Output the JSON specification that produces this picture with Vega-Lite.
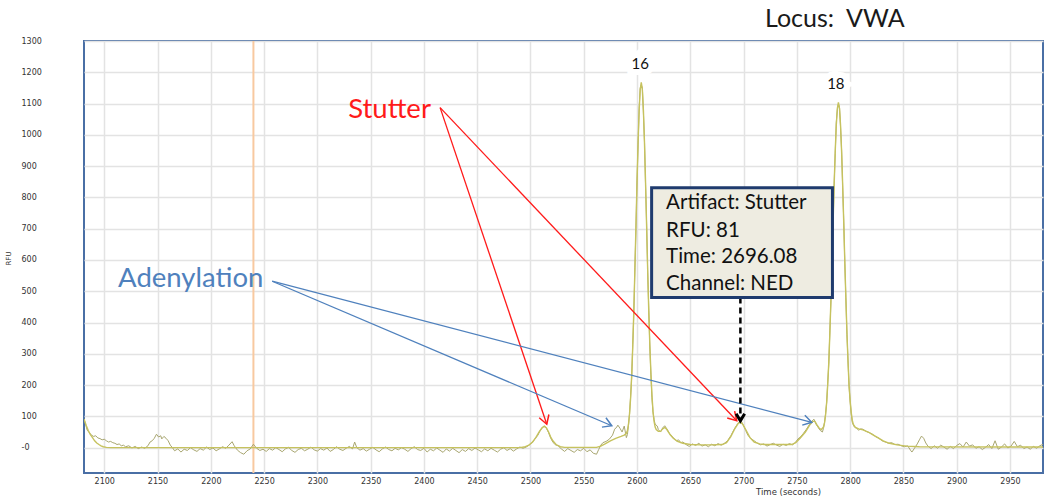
{
  "$schema": "https://vega.github.io/schema/vega-lite/v6.json",
  "width": 959,
  "height": 432,
  "autosize": {"type": "none"},
  "padding": {"left": 84, "top": 41, "right": 7, "bottom": 28},
  "background": "white",
  "title": {"text": "Locus:\u00a0\u00a0VWA", "anchor": "start", "frame": "group", "dx": 681, "offset": 5, "fontSize": 25, "font": "Lato", "fontWeight": "normal", "color": "#1a1a1a"},
  "config": {
    "view": {"stroke": "#4a6fa5", "strokeWidth": 2},
    "axis": {"gridColor": "#e3e3e3", "gridWidth": 1.5, "labelOverlap": false}
  },
  "datasets": {
    "raw": [
      {"t":2081,"v":92},{"t":2082,"v":80},{"t":2084,"v":56},{"t":2086,"v":48},{"t":2088,"v":40},{"t":2090,"v":36},{"t":2092,"v":38},{"t":2094,"v":31},{"t":2096,"v":29},{"t":2098,"v":25},{"t":2100,"v":27},{"t":2102,"v":22},{"t":2104,"v":18},{"t":2106,"v":20},{"t":2108,"v":16},{"t":2110,"v":14},{"t":2112,"v":10},{"t":2114,"v":12},{"t":2116,"v":6},{"t":2118,"v":8},{"t":2120,"v":3},{"t":2123,"v":6},{"t":2126,"v":-1},{"t":2129,"v":4},{"t":2132,"v":-3},{"t":2135,"v":2},{"t":2138,"v":-2},{"t":2141,"v":6},{"t":2143,"v":18},{"t":2145,"v":22},{"t":2147,"v":30},{"t":2149,"v":43},{"t":2151,"v":34},{"t":2153,"v":38},{"t":2154,"v":28},{"t":2156,"v":36},{"t":2158,"v":30},{"t":2160,"v":22},{"t":2162,"v":8},{"t":2164,"v":0},{"t":2166,"v":-10},{"t":2169,"v":-4},
      {"t":2172,"v":-14},{"t":2175,"v":-5},{"t":2178,"v":-9},{"t":2181,"v":0},{"t":2184,"v":-7},{"t":2187,"v":-12},{"t":2190,"v":-3},{"t":2193,"v":-8},{"t":2196,"v":2},{"t":2199,"v":-6},{"t":2202,"v":-1},{"t":2205,"v":-10},{"t":2208,"v":-4},{"t":2211,"v":3},{"t":2214,"v":-2},{"t":2217,"v":8},{"t":2220,"v":19},{"t":2222,"v":6},{"t":2225,"v":-8},{"t":2228,"v":-16},{"t":2231,"v":-21},{"t":2234,"v":-10},{"t":2237,"v":-4},{"t":2240,"v":11},{"t":2243,"v":-2},{"t":2246,"v":-9},{"t":2249,"v":-5},{"t":2252,"v":-12},{"t":2255,"v":-3},{"t":2258,"v":-8},{"t":2261,"v":0},{"t":2264,"v":-6},{"t":2267,"v":-13},{"t":2270,"v":-4},{"t":2273,"v":1},{"t":2276,"v":-9},{"t":2279,"v":-15},{"t":2282,"v":-6},{"t":2285,"v":-2},{"t":2288,"v":-10},{"t":2291,"v":-5},{"t":2294,"v":2},{"t":2297,"v":-7},{"t":2300,"v":-11},{"t":2303,"v":-3},{"t":2306,"v":-8},{"t":2309,"v":-1},{"t":2312,"v":-12},{"t":2315,"v":-6},{"t":2318,"v":3},{"t":2321,"v":-5},{"t":2324,"v":-9},{"t":2327,"v":-2},{"t":2330,"v":4},{"t":2333,"v":-4},{"t":2335,"v":18},{"t":2337,"v":0},{"t":2340,"v":-8},{"t":2343,"v":-3},{"t":2346,"v":-11},{"t":2349,"v":-5},{"t":2352,"v":1},{"t":2355,"v":-7},{"t":2358,"v":-13},{"t":2361,"v":-4},{"t":2364,"v":2},{"t":2367,"v":-6},{"t":2370,"v":-10},{"t":2373,"v":-2},{"t":2376,"v":-7},{"t":2379,"v":0},{"t":2382,"v":-5},{"t":2385,"v":-12},{"t":2388,"v":-3},{"t":2391,"v":3},{"t":2394,"v":-6},{"t":2397,"v":-9},{"t":2400,"v":-2},{"t":2403,"v":-14},{"t":2406,"v":-5},{"t":2409,"v":-10},{"t":2412,"v":-1},{"t":2415,"v":-8},{"t":2418,"v":-15},{"t":2421,"v":-4},{"t":2424,"v":-11},{"t":2427,"v":-2},{"t":2430,"v":-9},{"t":2433,"v":-16},{"t":2436,"v":-6},{"t":2439,"v":-12},{"t":2442,"v":-3},{"t":2445,"v":-9},{"t":2448,"v":-1},{"t":2451,"v":-7},{"t":2454,"v":-13},{"t":2457,"v":-4},{"t":2460,"v":-10},{"t":2463,"v":-2},{"t":2466,"v":-8},{"t":2469,"v":-14},{"t":2472,"v":-5},{"t":2475,"v":0},{"t":2478,"v":-9},{"t":2481,"v":-3},{"t":2484,"v":-11},{"t":2487,"v":-4},{"t":2490,"v":2},{"t":2493,"v":-2},
      {"t":2496,"v":2},{"t":2500,"v":11},{"t":2502,"v":18},{"t":2504,"v":27},{"t":2507,"v":40},{"t":2509,"v":54},{"t":2511,"v":63},{"t":2513,"v":70},{"t":2515,"v":62},{"t":2517,"v":48},{"t":2519,"v":30},{"t":2521,"v":18},{"t":2523,"v":10},{"t":2526,"v":6},{"t":2529,"v":-4},{"t":2532,"v":-12},{"t":2535,"v":-3},{"t":2538,"v":-9},{"t":2541,"v":-15},{"t":2544,"v":-6},{"t":2547,"v":-10},{"t":2550,"v":-2},{"t":2553,"v":-13},{"t":2556,"v":-7},{"t":2559,"v":-18},{"t":2562,"v":-21},{"t":2564,"v":-6},{"t":2566,"v":8},{"t":2568,"v":16},{"t":2571,"v":20},{"t":2574,"v":27},{"t":2577,"v":40},{"t":2579,"v":59},{"t":2581,"v":66},{"t":2582,"v":72},{"t":2584,"v":62},{"t":2586,"v":50},{"t":2588,"v":69},{"t":2590,"v":32},{"t":2591,"v":42},{"t":2592,"v":72},{"t":2593,"v":108},
      {"t":2594,"v":165},{"t":2595,"v":225},{"t":2596,"v":330},{"t":2597,"v":430},{"t":2598,"v":575},{"t":2599,"v":700},{"t":2600,"v":855},{"t":2601,"v":970},{"t":2602,"v":1085},{"t":2603,"v":1150},{"t":2604,"v":1160},{"t":2605,"v":1150},{"t":2606,"v":1070},{"t":2607,"v":980},{"t":2608,"v":840},{"t":2609,"v":715},{"t":2610,"v":560},{"t":2611,"v":445},{"t":2612,"v":325},{"t":2613,"v":235},{"t":2614,"v":160},{"t":2615,"v":113},{"t":2616,"v":90},{"t":2617,"v":75},{"t":2619,"v":69},{"t":2620,"v":58},{"t":2622,"v":50},{"t":2623,"v":55},{"t":2624,"v":63},{"t":2626,"v":70},{"t":2628,"v":60},{"t":2630,"v":48},{"t":2631,"v":43},{"t":2633,"v":36},{"t":2635,"v":28},{"t":2637,"v":22},{"t":2639,"v":25},{"t":2641,"v":16},{"t":2643,"v":18},{"t":2646,"v":10},{"t":2649,"v":4},{"t":2652,"v":12},{"t":2655,"v":7},{"t":2658,"v":14},{"t":2661,"v":5},{"t":2664,"v":9},{"t":2667,"v":3},{"t":2670,"v":11},{"t":2673,"v":6},{"t":2676,"v":13},{"t":2679,"v":8},{"t":2682,"v":14},{"t":2685,"v":22},{"t":2688,"v":38},{"t":2691,"v":58},{"t":2694,"v":74},{"t":2696,"v":82},{"t":2698,"v":84},{"t":2700,"v":70},{"t":2702,"v":55},{"t":2704,"v":40},{"t":2707,"v":28},{"t":2710,"v":22},{"t":2713,"v":14},{"t":2716,"v":9},{"t":2719,"v":12},{"t":2722,"v":5},{"t":2725,"v":10},{"t":2728,"v":14},{"t":2731,"v":8},{"t":2734,"v":4},{"t":2737,"v":11},{"t":2740,"v":7},{"t":2743,"v":13},{"t":2746,"v":9},{"t":2749,"v":18},{"t":2751,"v":28},{"t":2753,"v":33},{"t":2756,"v":45},{"t":2759,"v":59},{"t":2762,"v":75},{"t":2764,"v":84},{"t":2766,"v":91},{"t":2768,"v":75},{"t":2770,"v":65},{"t":2772,"v":55},{"t":2774,"v":50},{"t":2775,"v":62},{"t":2776,"v":81},{"t":2777,"v":110},{"t":2778,"v":145},{"t":2779,"v":210},{"t":2780,"v":270},{"t":2781,"v":375},{"t":2782,"v":470},{"t":2783,"v":600},{"t":2784,"v":712},{"t":2785,"v":845},{"t":2786,"v":940},{"t":2787,"v":1040},{"t":2788,"v":1080},{"t":2789,"v":1098},{"t":2790,"v":1090},{"t":2791,"v":1025},{"t":2792,"v":950},{"t":2793,"v":832},{"t":2794,"v":725},{"t":2795,"v":590},{"t":2796,"v":480},{"t":2797,"v":362},{"t":2798,"v":280},{"t":2799,"v":195},{"t":2800,"v":150},{"t":2801,"v":110},{"t":2802,"v":81},{"t":2804,"v":66},{"t":2806,"v":62},{"t":2808,"v":56},{"t":2810,"v":60},{"t":2812,"v":59},{"t":2815,"v":52},{"t":2818,"v":48},{"t":2821,"v":43},{"t":2824,"v":35},{"t":2827,"v":30},{"t":2830,"v":22},{"t":2833,"v":18},{"t":2836,"v":14},{"t":2839,"v":16},{"t":2842,"v":10},{"t":2845,"v":11},{"t":2848,"v":6},{"t":2851,"v":3},{"t":2854,"v":6},{"t":2857,"v":-10},{"t":2858,"v":-14},{"t":2860,"v":-4},{"t":2863,"v":12},{"t":2865,"v":25},{"t":2867,"v":37},{"t":2869,"v":30},{"t":2871,"v":15},{"t":2873,"v":5},{"t":2876,"v":-3},{"t":2879,"v":6},{"t":2882,"v":-2},{"t":2885,"v":8},{"t":2888,"v":2},{"t":2891,"v":-5},{"t":2894,"v":4},{"t":2897,"v":-3},{"t":2900,"v":7},{"t":2903,"v":13},{"t":2906,"v":2},{"t":2909,"v":18},{"t":2912,"v":5},{"t":2915,"v":9},{"t":2918,"v":-2},{"t":2921,"v":3},{"t":2924,"v":-6},{"t":2927,"v":1},{"t":2930,"v":10},{"t":2933,"v":-3},{"t":2936,"v":22},{"t":2939,"v":-5},{"t":2942,"v":2},{"t":2945,"v":12},{"t":2948,"v":-1},{"t":2951,"v":5},{"t":2954,"v":20},{"t":2957,"v":3},{"t":2960,"v":8},{"t":2963,"v":-3},{"t":2966,"v":2},{"t":2969,"v":-5},{"t":2972,"v":4},{"t":2975,"v":-2},{"t":2978,"v":6},{"t":2981,"v":11}
    ],
    "smooth": [
      {"t":2081,"v":92},{"t":2083,"v":72},{"t":2085,"v":55},{"t":2087,"v":42},{"t":2089,"v":32},{"t":2091,"v":22},{"t":2093,"v":15},{"t":2095,"v":10},{"t":2097,"v":6},{"t":2099,"v":3},{"t":2102,"v":1},{"t":2106,"v":0},{"t":2490,"v":0},{"t":2494,"v":2},{"t":2498,"v":7},{"t":2502,"v":18},{"t":2505,"v":32},{"t":2508,"v":50},{"t":2511,"v":64},{"t":2513,"v":68},{"t":2515,"v":63},{"t":2517,"v":50},{"t":2519,"v":34},{"t":2521,"v":22},{"t":2524,"v":10},{"t":2528,"v":3},{"t":2532,"v":1},{"t":2562,"v":1},{"t":2566,"v":5},{"t":2570,"v":12},{"t":2575,"v":22},{"t":2580,"v":30},{"t":2585,"v":36},{"t":2588,"v":40},{"t":2590,"v":46},{"t":2591,"v":55},{"t":2592,"v":75},{"t":2593,"v":110},{"t":2594,"v":160},{"t":2595,"v":231},{"t":2596,"v":324},{"t":2597,"v":438},{"t":2598,"v":569},{"t":2599,"v":709},{"t":2600,"v":848},{"t":2601,"v":976},{"t":2602,"v":1078},{"t":2603,"v":1145},{"t":2604,"v":1168},{"t":2605,"v":1145},{"t":2606,"v":1078},{"t":2607,"v":976},{"t":2608,"v":848},{"t":2609,"v":709},{"t":2610,"v":569},{"t":2611,"v":438},{"t":2612,"v":330},{"t":2613,"v":240},{"t":2614,"v":168},{"t":2615,"v":116},{"t":2616,"v":84},{"t":2617,"v":66},{"t":2618,"v":58},{"t":2620,"v":52},{"t":2622,"v":52},{"t":2624,"v":60},{"t":2626,"v":65},{"t":2628,"v":58},{"t":2631,"v":42},{"t":2634,"v":30},{"t":2638,"v":20},{"t":2643,"v":14},{"t":2650,"v":10},{"t":2660,"v":9},{"t":2670,"v":9},{"t":2680,"v":10},{"t":2684,"v":16},{"t":2688,"v":35},{"t":2692,"v":62},{"t":2695,"v":78},{"t":2697,"v":81},{"t":2699,"v":76},{"t":2702,"v":58},{"t":2706,"v":32},{"t":2710,"v":18},{"t":2715,"v":12},{"t":2720,"v":10},{"t":2745,"v":10},{"t":2749,"v":16},{"t":2753,"v":30},{"t":2758,"v":50},{"t":2762,"v":72},{"t":2765,"v":84},{"t":2767,"v":84},{"t":2769,"v":72},{"t":2771,"v":62},{"t":2773,"v":58},{"t":2775,"v":66},{"t":2776,"v":80},{"t":2777,"v":106},{"t":2778,"v":146},{"t":2779,"v":204},{"t":2780,"v":275},{"t":2781,"v":368},{"t":2782,"v":477},{"t":2783,"v":595},{"t":2784,"v":719},{"t":2785,"v":839},{"t":2786,"v":946},{"t":2787,"v":1031},{"t":2788,"v":1085},{"t":2789,"v":1104},{"t":2790,"v":1085},{"t":2791,"v":1031},{"t":2792,"v":946},{"t":2793,"v":839},{"t":2794,"v":719},{"t":2795,"v":595},{"t":2796,"v":477},{"t":2797,"v":368},{"t":2798,"v":275},{"t":2799,"v":199},{"t":2800,"v":149},{"t":2801,"v":113},{"t":2802,"v":88},{"t":2803,"v":74},{"t":2805,"v":65},{"t":2808,"v":60},{"t":2812,"v":57},{"t":2817,"v":50},{"t":2821,"v":42},{"t":2826,"v":32},{"t":2831,"v":22},{"t":2837,"v":14},{"t":2844,"v":9},{"t":2853,"v":5},{"t":2865,"v":3},{"t":2981,"v":2}
    ],
    "arrows": [
      {"id":"s1","kind":"Stutter","t":2415.2,"v":1087,"t2":2515.3,"v2":75},
      {"id":"s2","kind":"Stutter","t":2415.2,"v":1087,"t2":2693.6,"v2":86},
      {"id":"a1","kind":"Adenylation","t":2257.6,"v":532,"t2":2576.3,"v2":70},
      {"id":"a2","kind":"Adenylation","t":2257.6,"v":532,"t2":2764,"v2":81}
    ],
    "heads": [
      {"id":"s1","kind":"Stutter","t":2515.3,"v":75},
      {"id":"s2","kind":"Stutter","t":2693.6,"v":86},
      {"id":"a1","kind":"Adenylation","t":2576.3,"v":70},
      {"id":"a2","kind":"Adenylation","t":2764,"v":81}
    ],
    "callouts": [
      {"kind":"Stutter","t":2328.9,"v":1081},
      {"kind":"Adenylation","t":2113,"v":538}
    ],
    "peaks": [
      {"t":2603,"v":1225,"label":"16"},
      {"t":2786.6,"v":1161,"label":"18"}
    ],
    "marker": [{"t":2240,"v":-81,"v2":1300}],
    "box": [{"t":2613.7,"v":831,"t2":2783.4,"v2":480}],
    "boxlines": [
      {"t":2627.3,"v":783,"label":"Artifact: Stutter"},
      {"t":2627.3,"v":693,"label":"RFU: 81"},
      {"t":2627.3,"v":608,"label":"Time: 2696.08"},
      {"t":2627.3,"v":522,"label":"Channel: NED"}
    ],
    "pointer": [{"t":2697,"v":480,"t2":2697,"v2":86}],
    "pointerhead": [{"t":2697,"v":86}]
  },
  "encoding": {
    "x": {"field": "t", "type": "quantitative",
      "scale": {"domain": [2081, 2981], "nice": false, "zero": false},
      "axis": {"values": [2100,2150,2200,2250,2300,2350,2400,2450,2500,2550,2600,2650,2700,2750,2800,2850,2900,2950], "tickCount": 18,
        "title": "Time (seconds)", "grid": true, "ticks": false, "domain": false, "labelDx": 6, "labelPadding": 4,
        "labelFont": "DejaVu Sans", "labelFontSize": 8, "labelColor": "#333333", "format": "d",
        "titleFont": "DejaVu Sans", "titleFontSize": 8.5, "titleFontWeight": "normal", "titleColor": "#333333",
        "titleX": 704, "titleY": 18, "titleAlign": "center", "titleBaseline": "middle"}},
    "y": {"field": "v", "type": "quantitative",
      "scale": {"domain": [-81, 1300], "nice": false, "zero": false},
      "axis": {"values": [0,100,200,300,400,500,600,700,800,900,1000,1100,1200,1300], "tickCount": 14,
        "labelExpr": "datum.value == 0 ? '-0' : datum.label", "format": "d",
        "labelAlign": "left", "labelBaseline": "middle", "labelPadding": 63, "ticks": false, "domain": false, "grid": true,
        "labelFont": "DejaVu Sans", "labelFontSize": 8, "labelColor": "#333333",
        "title": "RFU", "titleFont": "DejaVu Sans", "titleFontSize": 7, "titleFontWeight": "normal", "titleColor": "#333333",
        "titleX": -76, "titleY": 217, "titleAlign": "center", "titleBaseline": "middle"}}
  },
  "layer": [
    {
      "data": {"name": "marker"},
      "mark": {"type": "rule", "color": "#f8c9a0", "strokeWidth": 2},
      "encoding": {"y2": {"field": "v2"}}
    },
    {
      "data": {"name": "raw"},
      "mark": {"type": "line", "color": "#a8a670", "strokeWidth": 1, "clip": true}
    },
    {
      "data": {"name": "smooth"},
      "mark": {"type": "line", "color": "#c6c25e", "strokeWidth": 1.4, "clip": true}
    },
    {
      "data": {"name": "peaks"},
      "mark": {"type": "text", "font": "Lato", "fontSize": 15, "color": "white", "stroke": "white", "strokeWidth": 12, "baseline": "middle", "align": "center"},
      "encoding": {"text": {"field": "label"}}
    },
    {
      "data": {"name": "peaks"},
      "mark": {"type": "text", "font": "Lato", "fontSize": 15, "color": "#111111", "baseline": "middle", "align": "center"},
      "encoding": {"text": {"field": "label"}}
    },
    {
      "data": {"name": "arrows"},
      "mark": {"type": "rule", "strokeWidth": 1.3},
      "encoding": {
        "x2": {"field": "t2"}, "y2": {"field": "v2"},
        "color": {"field": "kind", "type": "nominal", "scale": {"domain": ["Stutter", "Adenylation"], "range": ["#ff1a1a", "#4f81bd"]}, "legend": null}
      }
    },
    {
      "data": {"name": "heads"},
      "transform": [{"filter": "datum.id == 's1'"}],
      "mark": {"type": "point", "shape": "M -0.6 -1 L 0 0 L 0.6 -1", "size": 289, "filled": false, "strokeWidth": 1.5, "angle": -18.6, "opacity": 1},
      "encoding": {"color": {"field": "kind", "type": "nominal", "legend": null}}
    },
    {
      "data": {"name": "heads"},
      "transform": [{"filter": "datum.id == 's2'"}],
      "mark": {"type": "point", "shape": "M -0.6 -1 L 0 0 L 0.6 -1", "size": 289, "filled": false, "strokeWidth": 1.5, "angle": -43.4, "opacity": 1},
      "encoding": {"color": {"field": "kind", "type": "nominal", "legend": null}}
    },
    {
      "data": {"name": "heads"},
      "transform": [{"filter": "datum.id == 'a1'"}],
      "mark": {"type": "point", "shape": "M -0.6 -1 L 0 0 L 0.6 -1", "size": 289, "filled": false, "strokeWidth": 1.5, "angle": -66.9, "opacity": 1},
      "encoding": {"color": {"field": "kind", "type": "nominal", "legend": null}}
    },
    {
      "data": {"name": "heads"},
      "transform": [{"filter": "datum.id == 'a2'"}],
      "mark": {"type": "point", "shape": "M -0.6 -1 L 0 0 L 0.6 -1", "size": 289, "filled": false, "strokeWidth": 1.5, "angle": -75.3, "opacity": 1},
      "encoding": {"color": {"field": "kind", "type": "nominal", "legend": null}}
    },
    {
      "data": {"name": "pointer"},
      "mark": {"type": "rule", "color": "#000000", "strokeWidth": 2.5, "strokeDash": [6, 4]},
      "encoding": {"x2": {"field": "t2"}, "y2": {"field": "v2"}}
    },
    {
      "data": {"name": "pointerhead"},
      "mark": {"type": "point", "shape": "M -0.6 -1 L 0 0 L 0.6 -1", "size": 200, "filled": false, "strokeWidth": 3, "color": "#000000", "angle": 0, "opacity": 1}
    },
    {
      "data": {"name": "box"},
      "mark": {"type": "rect", "fill": "#eeece1", "stroke": "#1f3b6e", "strokeWidth": 3},
      "encoding": {"x2": {"field": "t2"}, "y2": {"field": "v2"}}
    },
    {
      "data": {"name": "boxlines"},
      "mark": {"type": "text", "font": "Lato", "fontSize": 20.5, "color": "#111111", "align": "left", "baseline": "middle"},
      "encoding": {"text": {"field": "label"}}
    },
    {
      "data": {"name": "callouts"},
      "mark": {"type": "text", "font": "Lato", "fontSize": 27.5, "align": "left", "baseline": "middle"},
      "encoding": {"text": {"field": "kind"}, "color": {"field": "kind", "type": "nominal", "legend": null}}
    }
  ]
}
